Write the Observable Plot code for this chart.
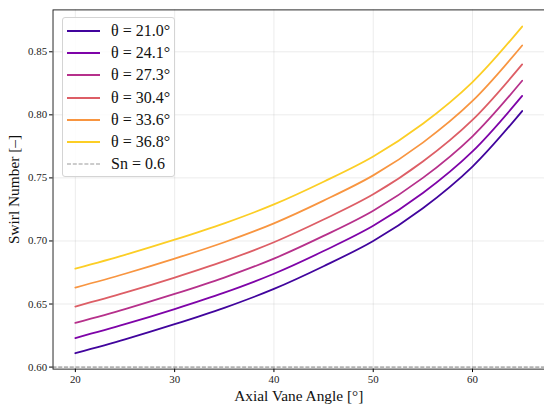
<!DOCTYPE html>
<html>
<head>
<meta charset="utf-8">
<script src="https://cdn.jsdelivr.net/npm/d3@7"></script>
<script src="https://cdn.jsdelivr.net/npm/@observablehq/plot@0.6"></script>
<style>
  html, body { margin: 0; padding: 0; background: white; overflow: hidden; }
  #wrap { position: relative; width: 544px; height: 410px; overflow: hidden; }
  #legend {
    position: absolute; left: 62px; top: 17px; width: 113px; height: 160px;
    border: 1px solid #d4d4d4; border-radius: 3px; background: rgba(255,255,255,0.85);
    font-family: "Liberation Serif", "DejaVu Serif", serif; font-size: 16px; color: #111;
    padding-top: 2px; box-sizing: border-box;
  }
  .row { display: flex; align-items: center; height: 22.2px; }
  .row svg { margin-left: 4px; margin-right: 11px; }
</style>
</head>
<body>
<div id="wrap"><div id="chart"></div><div id="legend"></div></div>
<script>
// Data
const angles = [20, 25, 30, 35, 40, 45, 50, 55, 60, 65];
const thetaLabels = ["21.0", "24.1", "27.3", "30.4", "33.6", "36.8"];
const sn_21_0 = [0.611, 0.622, 0.634, 0.647, 0.662, 0.680, 0.700, 0.726, 0.759, 0.803];
const sn_24_1 = [0.623, 0.634, 0.646, 0.659, 0.674, 0.692, 0.712, 0.738, 0.771, 0.815];
const sn_27_3 = [0.635, 0.646, 0.658, 0.671, 0.686, 0.704, 0.724, 0.750, 0.783, 0.827];
const sn_30_4 = [0.648, 0.659, 0.671, 0.684, 0.699, 0.717, 0.737, 0.763, 0.796, 0.840];
const sn_33_6 = [0.663, 0.674, 0.686, 0.699, 0.714, 0.732, 0.752, 0.778, 0.811, 0.855];
const sn_36_8 = [0.678, 0.689, 0.701, 0.714, 0.729, 0.747, 0.767, 0.793, 0.826, 0.870];
const threshold = 0.6;
const xTicks = [20, 30, 40, 50, 60];
const yTicks = [0.60, 0.65, 0.70, 0.75, 0.80, 0.85];
const lineColors = ["#41049d", "#7e03a8", "#b6308b", "#dd5e66", "#f89540", "#fcce25"];

const seriesValues = [sn_21_0, sn_24_1, sn_27_3, sn_30_4, sn_33_6, sn_36_8];
const seriesNames = thetaLabels.map(t => `θ = ${t}°`);
const rows = [];
seriesValues.forEach((vals, i) => vals.forEach((v, j) => rows.push({angle: angles[j], sn: v, series: seriesNames[i]})));

const serif = "Liberation Serif, DejaVu Serif, serif";

const chart = Plot.plot({
  width: 549,
  height: 410,
  marginLeft: 53,
  marginRight: 0,
  marginTop: 9.5,
  marginBottom: 38,
  style: {fontFamily: serif, fontSize: "11px", background: "white", overflow: "visible"},
  x: {domain: [17.75, 67.25]},
  y: {domain: [0.5984, 0.8832]},
  color: {domain: seriesNames, range: lineColors},
  marks: [
    Plot.gridX(xTicks, {stroke: "#b0b0b0", strokeOpacity: 0.3, strokeWidth: 0.8}),
    Plot.gridY(yTicks, {stroke: "#b0b0b0", strokeOpacity: 0.3, strokeWidth: 0.8}),
    Plot.ruleY([threshold], {stroke: "#808080", strokeWidth: 1, strokeDasharray: "4,1.8"}),
    Plot.line(rows, {x: "angle", y: "sn", z: "series", stroke: "series", strokeWidth: 1.8, curve: "catmull-rom"}),
    Plot.axisX(xTicks, {tickSize: 3.5, tickPadding: 3, label: null, fill: "#222", fontSize: 11}),
    Plot.axisY(yTicks, {tickSize: 3.5, tickPadding: 2.5, label: null, tickFormat: d3.format(".2f"), fill: "#222", fontSize: 11}),
    Plot.text(["Axial Vane Angle [°]"], {frameAnchor: "bottom", lineAnchor: "middle", textAnchor: "middle", dy: 27, fontSize: 15.5, fill: "#111"}),
    Plot.text(["Swirl Number [–]"], {frameAnchor: "left", lineAnchor: "middle", textAnchor: "middle", dx: -39, rotate: -90, fontSize: 15.5, fill: "#111"}),
    Plot.frame({stroke: "#111", strokeWidth: 0.9})
  ]
});
document.getElementById("chart").appendChild(chart);

// Legend
const legend = document.getElementById("legend");
const entries = seriesNames.map((n, i) => ({name: n, color: lineColors[i], dash: null}));
entries.push({name: `Sn = ${threshold}`, color: "#999", dash: "4,1.8"});
entries.forEach(e => {
  const row = document.createElement("div");
  row.className = "row";
  const ns = "http://www.w3.org/2000/svg";
  const svg = document.createElementNS(ns, "svg");
  svg.setAttribute("width", "33");
  svg.setAttribute("height", "6");
  const ln = document.createElementNS(ns, "line");
  ln.setAttribute("x1", "0"); ln.setAttribute("x2", "33");
  ln.setAttribute("y1", "3"); ln.setAttribute("y2", "3");
  ln.setAttribute("stroke", e.color);
  ln.setAttribute("stroke-width", e.dash ? "1" : "1.8");
  if (e.dash) ln.setAttribute("stroke-dasharray", e.dash);
  svg.appendChild(ln);
  const label = document.createElement("span");
  label.textContent = e.name;
  row.appendChild(svg);
  row.appendChild(label);
  legend.appendChild(row);
});
</script>
</body>
</html>
